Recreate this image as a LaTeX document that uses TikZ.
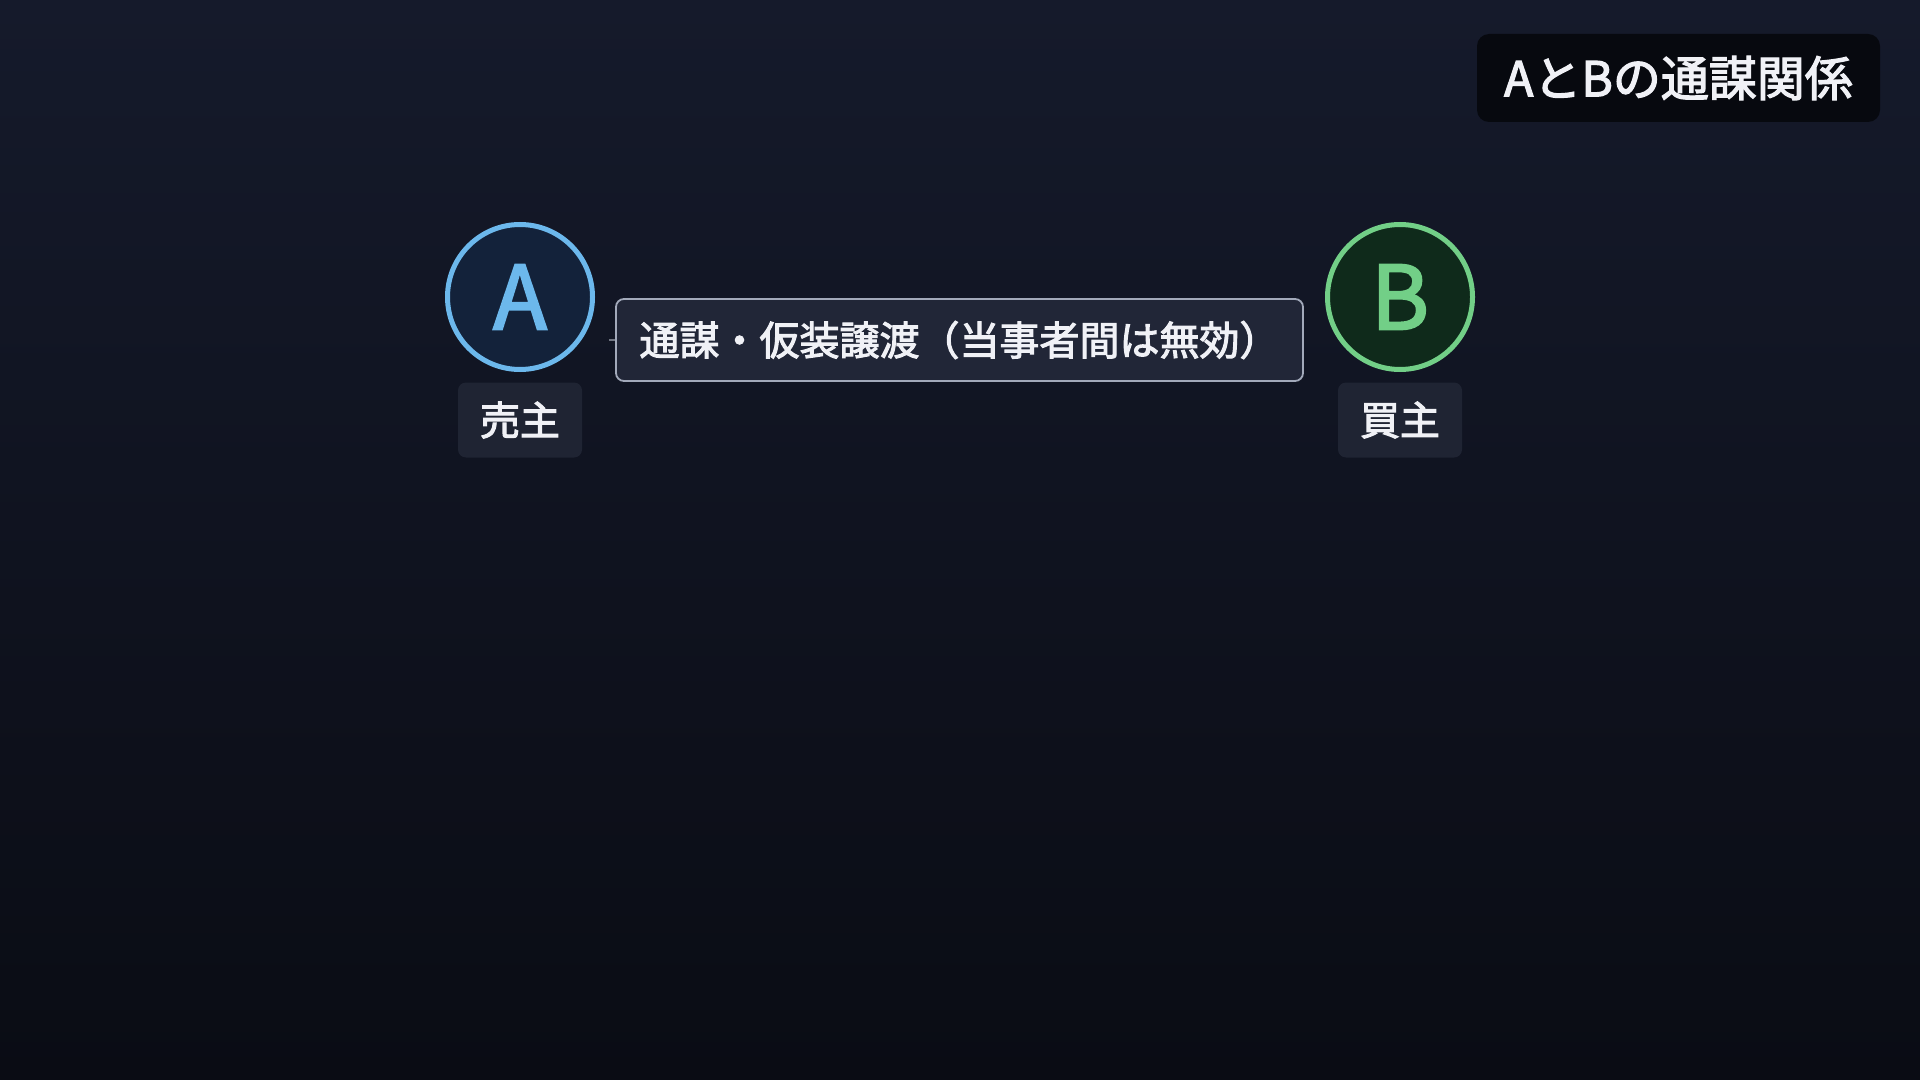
\documentclass[tikz,border=0pt]{standalone}
\usepackage{fontspec}
\setmainfont{Noto Sans CJK JP}[BoldFont={Noto Sans CJK JP}, BoldFeatures={FakeBold=2.6}]
\definecolor{bgtop}{HTML}{151A2B}
\definecolor{bgbot}{HTML}{0A0C14}
\definecolor{acol}{HTML}{6CB8EC}
\definecolor{afill}{HTML}{13223A}
\definecolor{bcol}{HTML}{72CF87}
\definecolor{bfill}{HTML}{0F2A1B}
\definecolor{labfill}{HTML}{1F2433}
\definecolor{txt}{HTML}{F0F1F6}
\definecolor{efill}{HTML}{212637}
\definecolor{edraw}{HTML}{A2A9BA}
\definecolor{tfill}{HTML}{07090F}
\tikzset{
  party/.style={circle, line width=2.5pt, minimum size=72.5pt, inner sep=0pt, font=\fontsize{44}{44}\selectfont\bfseries},
  lab/.style={fill=labfill, rounded corners=4pt, minimum width=62pt, minimum height=37.5pt, inner sep=0pt, text=txt, font=\fontsize{20}{20}\selectfont\bfseries},
  elab/.style={fill=efill, draw=edraw, line width=0.9pt, rounded corners=4pt, minimum width=343.5pt, minimum height=41pt, inner sep=0pt, text=txt, font=\fontsize{20}{20}\selectfont\bfseries},
  titlebox/.style={fill=tfill, rounded corners=6pt, minimum width=201.5pt, minimum height=44pt, inner sep=0pt, text=txt, font=\fontsize{24}{24}\selectfont\bfseries},
  stub/.style={draw=edraw!70!black, line width=0.9pt}
}
\begin{document}
\begin{tikzpicture}[x=0.5pt,y=-0.5pt]
\shade[top color=bgtop, bottom color=bgbot] (0,0) rectangle (1920,1080);
\useasboundingbox (0,0) rectangle (1920,1080);
\node[party, draw=acol, fill=afill, text=acol] (a) at (520,297) {A};
\node[party, draw=bcol, fill=bfill, text=bcol] (b) at (1400,297) {B};
\node[lab] (la) at (520,420) {売主};
\node[lab] (lb) at (1400,420) {買主};
\coordinate (s) at (609,340);
\node[elab] (e) at (959.5,340) {通謀・仮装譲渡（当事者間は無効）};
\draw[stub] (s) -- (e.west);
\node[titlebox] (t) at (1678.5,78) {AとBの通謀関係};
\end{tikzpicture}
\end{document}
